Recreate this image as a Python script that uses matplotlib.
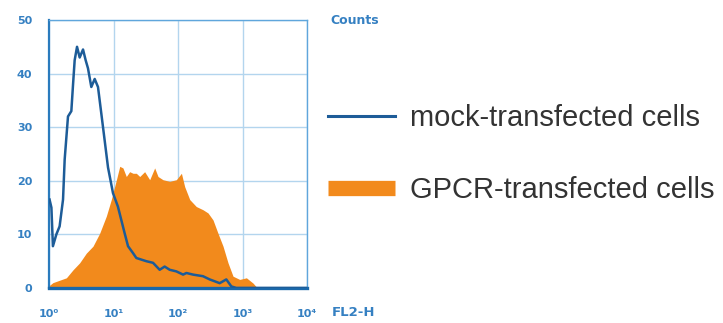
import numpy as np
import matplotlib
matplotlib.use("Agg")
import matplotlib.pyplot as plt
from matplotlib.lines import Line2D

# ---- data ----
mock_fl2 = [1.02, 1.09, 1.15, 1.30, 1.46, 1.65, 1.75, 1.97, 2.22, 2.36, 2.50, 2.72, 2.99,
            3.37, 3.70, 4.02, 4.53, 5.11, 5.75, 6.48, 7.30, 8.22, 9.82, 11.7, 13.2, 14.9,
            16.8, 20.1, 22.6, 27.0, 32.3, 41.0, 52.0, 62.1, 74.3, 94.2, 120, 135, 171,
            244, 310, 443, 561, 671, 802, 9770]
mock_counts = [16.5, 15.0, 7.8, 10.0, 11.5, 16.5, 24.0, 32.0, 33.0, 38.0, 42.5, 45.0, 43.0,
               44.5, 42.5, 41.0, 37.5, 39.0, 37.5, 32.5, 27.5, 22.5, 17.7, 15.2, 12.7, 10.2,
               7.8, 6.5, 5.6, 5.3, 5.0, 4.7, 3.4, 4.0, 3.4, 3.1, 2.5, 2.8, 2.5,
               2.2, 1.6, 0.9, 1.6, 0.3, 0.0, 0.0]

gpcr_fl2 = [1.02, 1.15, 1.86, 2.36, 2.99, 3.79, 4.81, 6.10, 7.74, 9.25, 11.1, 12.5, 14.0,
            15.8, 17.8, 20.1, 22.6, 25.5, 30.4, 36.4, 43.5, 49.0, 58.5, 74.3, 94.2, 113,
            127, 152, 192, 244, 292, 349, 417, 499, 596, 713, 904, 1150, 1460, 1640, 1850]
gpcr_counts = [0.5, 1.0, 1.9, 3.4, 4.7, 6.5, 7.8, 10.2, 13.4, 16.5, 20.2, 22.7, 22.4,
               20.8, 21.7, 21.4, 21.4, 20.8, 21.7, 20.2, 22.4, 20.8, 20.2, 19.9, 20.2, 21.4,
               18.9, 16.5, 15.2, 14.6, 14.0, 12.7, 10.2, 7.8, 4.7, 2.2, 1.6, 1.9, 0.9, 0.2, 0.0]

x_ticks = [1, 10, 100, 1000, 10000]
x_tick_labels = ["10⁰", "10¹", "10²", "10³", "10⁴"]
y_ticks = [0, 10, 20, 30, 40, 50]
y_tick_labels = ["0", "10", "20", "30", "40", "50"]
series_labels = ["mock-transfected cells", "GPCR-transfected cells"]

BLUE_LINE = "#1d5c98"
ORANGE = "#f28a1c"
FRAME = "#2a7bbd"
GRID = "#b3d5ee"
TICK = "#3580c2"

fig = plt.figure(figsize=(7.23, 3.23), dpi=100)
ax = fig.add_axes([49 / 723, 1 - 288 / 323, (307 - 49) / 723, (288 - 20) / 323])

ax.fill_between(gpcr_fl2, gpcr_counts, 0, color=ORANGE, lw=0, zorder=2)
ax.plot(mock_fl2, mock_counts, color=BLUE_LINE, lw=1.8, zorder=3)

ax.set_xscale("log")
ax.set_xlim(1, 10000)
ax.set_ylim(0, 50)
ax.set_xticks(x_ticks)
ax.set_xticklabels(x_tick_labels)
ax.minorticks_off()
ax.set_yticks(y_ticks)
ax.set_yticklabels(y_tick_labels)
ax.grid(True, color=GRID, lw=1.0, zorder=0)
ax.set_axisbelow(True)
ax.tick_params(length=0, colors=TICK, labelsize=8)
ax.tick_params(axis="x", pad=15)
ax.tick_params(axis="y", pad=12)
for lab in ax.get_xticklabels() + ax.get_yticklabels():
    lab.set_fontweight("bold")
    lab.set_family("DejaVu Sans")

for side in ["top", "right"]:
    ax.spines[side].set_color("#5fa6dc")
    ax.spines[side].set_linewidth(1.0)
ax.spines["left"].set_color(FRAME)
ax.spines["left"].set_linewidth(1.6)
ax.spines["bottom"].set_color("#1a68aa")
ax.spines["bottom"].set_linewidth(2.4)

fig.text(330 / 723, 1 - 20 / 323, "Counts", color=TICK, fontsize=9, fontweight="bold",
         ha="left", va="center")
fig.text(332 / 723, 1 - 313 / 323, "FL2-H", color=TICK, fontsize=9.5, fontweight="bold",
         ha="left", va="center")

handles = [Line2D([], [], color=BLUE_LINE, lw=2.2),
           Line2D([], [], color=ORANGE, lw=11, solid_capstyle="butt")]
leg = fig.legend(handles, series_labels, loc="upper left",
                 bbox_to_anchor=(328 / 723, 1 - 104 / 323), frameon=False,
                 borderpad=0, borderaxespad=0, handlelength=2.3, handletextpad=0.52,
                 labelspacing=1.5, prop={"family": "Liberation Sans", "size": 21})
for t in leg.get_texts():
    t.set_color("#333333")

fig.savefig("out.png", dpi=100)
